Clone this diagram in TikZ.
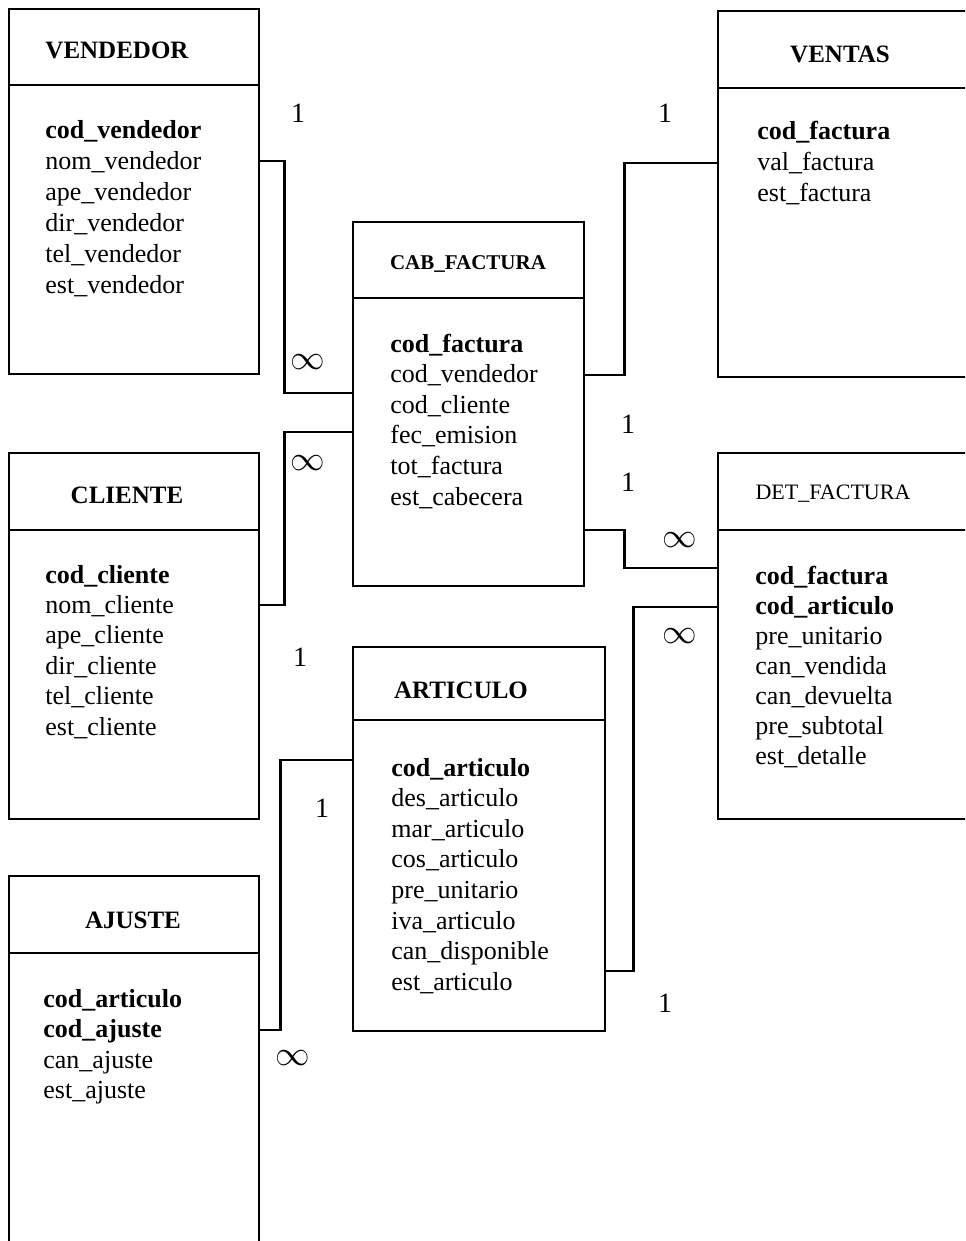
\documentclass[tikz,border=0pt]{standalone}
\usepackage{fontspec}
\setmainfont{Liberation Serif}
\begin{document}
\begin{tikzpicture}[x=0.5pt,y=-0.5pt,
  tabla/.style={draw,line width=1.2pt,anchor=north west,inner sep=0pt},
  sep/.style={line width=0.8pt},
  titulo/.style={font=\bfseries\fontsize{12.5}{14}\selectfont,inner sep=0pt},
  campo/.style={anchor=base west,inner sep=0pt,font=\fontsize{13}{15}\selectfont},
  card/.style={inner sep=0pt,font=\fontsize{14}{16}\selectfont},
  inf/.style={inner sep=0pt,font=\fontsize{17}{19}\selectfont},
  rel/.style={line width=1.2pt}]
\clip (0,0) rectangle (965,1241);
\fill[white] (0,0) rectangle (965,1241);
% tablas
\node[tabla,minimum width=125pt,minimum height=182.5pt] (vendedor) at (8,8) {};
\draw[sep] (vendedor.west |- 0,85) -- (vendedor.east |- 0,85);
\node[titulo] (tvendedor) at (117,50) {VENDEDOR};
\foreach \c [count=\i from 0] in {\textbf{cod\_vendedor},nom\_vendedor,ape\_vendedor,dir\_vendedor,tel\_vendedor,est\_vendedor}
  \node[campo] (vend\i) at (45,{139+30.8*\i}) {\c};

\node[tabla,minimum width=130pt,minimum height=183pt] (ventas) at (717,10) {};
\draw[sep] (ventas.west |- 0,88) -- (ventas.east |- 0,88);
\node[titulo] (tventas) at (840,54) {VENTAS};
\foreach \c [count=\i from 0] in {\textbf{cod\_factura},val\_factura,est\_factura}
  \node[campo] (vent\i) at (757,{140+30.8*\i}) {\c};

\node[tabla,minimum width=115.5pt,minimum height=182pt] (cabfac) at (352,221) {};
\draw[sep] (cabfac.west |- 0,298) -- (cabfac.east |- 0,298);
\node[titulo,font=\bfseries\fontsize{10.5}{12}\selectfont] (tcabfac) at (468,264) {CAB\_FACTURA};
\foreach \c [count=\i from 0] in {\textbf{cod\_factura},cod\_vendedor,cod\_cliente,fec\_emision,tot\_factura,est\_cabecera}
  \node[campo] (cab\i) at (390,{352+30.6*\i}) {\c};

\node[tabla,minimum width=125pt,minimum height=183pt] (cliente) at (8,452) {};
\draw[sep] (cliente.west |- 0,530) -- (cliente.east |- 0,530);
\node[titulo] (tcliente) at (127,495) {CLIENTE};
\foreach \c [count=\i from 0] in {\textbf{cod\_cliente},nom\_cliente,ape\_cliente,dir\_cliente,tel\_cliente,est\_cliente}
  \node[campo] (cli\i) at (45,{583+30.4*\i}) {\c};

\node[tabla,minimum width=130pt,minimum height=183pt] (detfac) at (717,452) {};
\draw[sep] (detfac.west |- 0,530) -- (detfac.east |- 0,530);
\node[titulo,font=\fontsize{11}{13}\selectfont] (tdetfac) at (833,494) {DET\_FACTURA};
\foreach \c [count=\i from 0] in {\textbf{cod\_factura},\textbf{cod\_articulo},pre\_unitario,can\_vendida,can\_devuelta,pre\_subtotal,est\_detalle}
  \node[campo] (det\i) at (755,{584+30*\i}) {\c};

\node[tabla,minimum width=126pt,minimum height=192pt] (articulo) at (352,646) {};
\draw[sep] (articulo.west |- 0,720) -- (articulo.east |- 0,720);
\node[titulo] (tarticulo) at (461,690) {ARTICULO};
\foreach \c [count=\i from 0] in {\textbf{cod\_articulo},des\_articulo,mar\_articulo,cos\_articulo,pre\_unitario,iva\_articulo,can\_disponible,est\_articulo}
  \node[campo] (art\i) at (391,{776+30.6*\i}) {\c};

\node[tabla,minimum width=125pt,minimum height=190pt] (ajuste) at (8,875) {};
\draw[sep] (ajuste.west |- 0,953) -- (ajuste.east |- 0,953);
\node[titulo] (tajuste) at (133,920) {AJUSTE};
\foreach \c [count=\i from 0] in {\textbf{cod\_articulo},\textbf{cod\_ajuste},can\_ajuste,est\_ajuste}
  \node[campo] (aju\i) at (43,{1007+30.6*\i}) {\c};

% relaciones
\draw[rel] (vendedor.east |- 0,161) -- ++(24,0) |- (cabfac.west |- 0,393);
\draw[rel] (cliente.east |- 0,605) -- ++(24,0) |- (cabfac.west |- 0,432);
\draw[rel] (cabfac.east |- 0,375) -- ++(39,0) |- (ventas.west |- 0,163);
\draw[rel] (cabfac.east |- 0,530) -- ++(39,0) |- (detfac.west |- 0,568);
\draw[rel] (articulo.east |- 0,971) -- ++(27,0) |- (detfac.west |- 0,607);
\draw[rel] (ajuste.east |- 0,1030) -- ++(20,0) |- (articulo.west |- 0,760);

\node[card] (m1) at (298,113) {1};
\node[inf] (m2) at (308,362) {$\infty$};
\node[inf] (m3) at (308,463) {$\infty$};
\node[card] (m4) at (300,657) {1};
\node[card] (m5) at (322,808) {1};
\node[inf] (m6) at (293,1058) {$\infty$};
\node[card] (m7) at (665,113) {1};
\node[card] (m8) at (628,424) {1};
\node[card] (m9) at (628,482) {1};
\node[inf] (m10) at (680,540) {$\infty$};
\node[inf] (m11) at (680,636) {$\infty$};
\node[card] (m12) at (665,1003) {1};
\end{tikzpicture}
\end{document}
